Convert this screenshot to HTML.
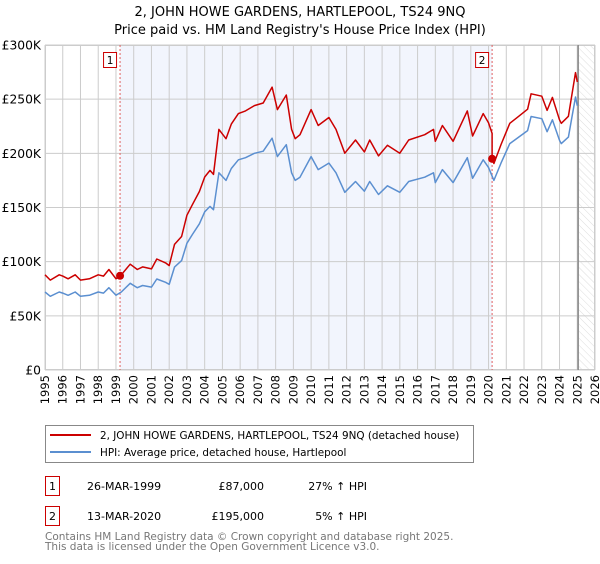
<!DOCTYPE html>
<html><head><meta charset="utf-8">
<style>
body{margin:0;background:#fff;font-family:"DejaVu Sans","Liberation Sans",sans-serif;}
svg text{font-family:"DejaVu Sans","Liberation Sans",sans-serif;}
</style></head>
<body>
<svg id="c" width="600" height="560" viewBox="0 0 600 560">
<defs>
<pattern id="hatch" width="5" height="5" patternUnits="userSpaceOnUse" patternTransform="rotate(-45)">
<line x1="0" y1="0" x2="0" y2="5" stroke="#d4d4d4" stroke-width="0.8"/>
</pattern>
</defs>
<text x="300" y="16" text-anchor="middle" font-size="13" fill="#000">2, JOHN HOWE GARDENS, HARTLEPOOL, TS24 9NQ</text>
<text x="300" y="34" text-anchor="middle" font-size="13" fill="#000">Price paid vs. HM Land Registry's House Price Index (HPI)</text>
<g id="plot"></g>
<g>
<rect x="45.5" y="425.5" width="428" height="37" fill="#fff" stroke="#888"/>
<line x1="50" y1="435" x2="91" y2="435" stroke="#cc0000" stroke-width="2"/>
<text x="100" y="439" font-size="10.4">2, JOHN HOWE GARDENS, HARTLEPOOL, TS24 9NQ (detached house)</text>
<line x1="50" y1="452" x2="91" y2="452" stroke="#5b8fd0" stroke-width="2"/>
<text x="100" y="456" font-size="10.4">HPI: Average price, detached house, Hartlepool</text>
</g>
<g font-size="11">
<rect x="45.5" y="476.5" width="14" height="19" fill="#fff" stroke="#cc0000"/>
<text x="52.5" y="490" text-anchor="middle">1</text>
<text x="87" y="490">26-MAR-1999</text>
<text x="264" y="490" text-anchor="end">£87,000</text>
<text x="367" y="490" text-anchor="end">27% ↑ HPI</text>
<rect x="45.5" y="506.5" width="14" height="19" fill="#fff" stroke="#cc0000"/>
<text x="52.5" y="520" text-anchor="middle">2</text>
<text x="87" y="520">13-MAR-2020</text>
<text x="264" y="520" text-anchor="end">£195,000</text>
<text x="367" y="520" text-anchor="end">5% ↑ HPI</text>
</g>
<text x="45" y="540" font-size="10.5" fill="#777">Contains HM Land Registry data © Crown copyright and database right 2025.</text>
<text x="45" y="550" font-size="10.5" fill="#777">This data is licensed under the Open Government Licence v3.0.</text>
</svg>
<script>
const hpiYears=[1995.0,1995.3,1995.8,1996.0,1996.3,1996.7,1997.0,1997.5,1998.0,1998.3,1998.6,1999.0,1999.3,1999.8,2000.2,2000.5,2001.0,2001.3,2001.8,2002.0,2002.3,2002.7,2003.0,2003.3,2003.7,2004.0,2004.3,2004.5,2004.8,2005.2,2005.5,2005.9,2006.3,2006.8,2007.3,2007.8,2008.1,2008.6,2008.9,2009.1,2009.37,2010.0,2010.4,2011.0,2011.4,2011.9,2012.5,2013.0,2013.3,2013.8,2014.3,2015.0,2015.5,2016.4,2016.9,2017.0,2017.4,2018.0,2018.8,2019.1,2019.7,2020.0,2020.3,2020.7,2021.2,2021.7,2022.2,2022.4,2023.0,2023.3,2023.6,2024.0,2024.1,2024.5,2024.9,2025.0];
const hpiValues=[72,68,72,71,69,72,68,69,72,71,76,69,72,80,76,78,76.5,84,81,79,95,101,117,125,135,146,151,148,182,175,186,194,196,200,202,214,197,208,182,175,178,197,185,191,182,164,174,165,174,162,170,164,174,178,182,173,185,173,196,177,194,187,175,191,209,215,221,234,232,220,231,212,209,215,252,244];
const saleYears=[1999.23,2020.2];
const salePrices=[87,195];
const saleLabels=["1","2"];
const yTicks=[0,50,100,150,200,250,300];
const yTickLabels=["£0","£50K","£100K","£150K","£200K","£250K","£300K"];
const xTicks=[1995,1996,1997,1998,1999,2000,2001,2002,2003,2004,2005,2006,2007,2008,2009,2010,2011,2012,2013,2014,2015,2016,2017,2018,2019,2020,2021,2022,2023,2024,2025,2026];
const dataEnd=2025.05;

const L=45,R=595,T=45,B=370;
const x=v=>L+(v-1995)/31*(R-L);
const y=v=>B-v/300*(B-T);
const NS="http://www.w3.org/2000/svg";
const g=document.getElementById('plot');
function mk(tag,attrs,parent){const e=document.createElementNS(NS,tag);for(const k in attrs)e.setAttribute(k,attrs[k]);(parent||g).appendChild(e);return e;}
function hpiAt(t){for(let i=0;i<hpiYears.length-1;i++){if(t>=hpiYears[i]&&t<=hpiYears[i+1]){const f=(t-hpiYears[i])/(hpiYears[i+1]-hpiYears[i]);return hpiValues[i]+f*(hpiValues[i+1]-hpiValues[i]);}}return hpiValues[hpiValues.length-1];}

let e=mk('rect',{x:x(saleYears[0]),y:T,width:x(saleYears[1])-x(saleYears[0]),height:B-T,fill:'#f2f5fd'});


e=mk('rect',{x:x(dataEnd),y:T,width:R-x(dataEnd),height:B-T,fill:'url(#hatch)'});



yTicks.forEach((v,i)=>{
 let l=mk('line',{x1:L,x2:R,y1:y(v),y2:y(v),stroke:'#cccccc','stroke-width':1});
 
 
 let t=mk('text',{x:L-4,y:y(v)+4.5,'text-anchor':'end','font-size':'12.3',fill:'#000'});
 t.textContent=yTickLabels[i];
 
 
});
xTicks.forEach(v=>{
 let l=mk('line',{x1:x(v),x2:x(v),y1:T,y2:B,stroke:'#cccccc','stroke-width':1});
 
 
 let t=mk('text',{x:0,y:0,'text-anchor':'end','font-size':'11.5',fill:'#000',transform:`translate(${x(v)+4},${375}) rotate(-90)`});
 t.textContent=String(v);
 
 
});
e=mk('rect',{x:L+0.5,y:T+0.5,width:R-L-1,height:B-T-1,fill:'none',stroke:'#cccccc'});


e=mk('line',{x1:x(dataEnd),x2:x(dataEnd),y1:T,y2:B,stroke:'#888','stroke-width':1.5});



saleYears.forEach((s,i)=>{
 let l=mk('line',{x1:x(s),x2:x(s),y1:T,y2:B,stroke:'#e06060','stroke-width':1,'stroke-dasharray':'2,2'});
 
 
 let r=mk('rect',{x:x(s)-16.5,y:52.5,width:13,height:15,fill:'#fff',stroke:'#cc0000'});
 
 
 let t=mk('text',{x:x(s)-10,y:64,'text-anchor':'middle','font-size':'10.5'});
 t.textContent=saleLabels[i];
 
 
});

let hp=hpiYears.map((t,i)=>`${i?'L':'M'}${x(t).toFixed(1)},${y(hpiValues[i]).toFixed(1)}`).join(' ');
e=mk('path',{d:hp,fill:'none',stroke:'#5b8fd0','stroke-width':1.5,'stroke-linejoin':'round'});



const r1=salePrices[0]/hpiAt(saleYears[0]), r2=salePrices[1]/hpiAt(saleYears[1]);
let pts=[];
hpiYears.forEach((t,i)=>{ if(t<saleYears[1]) pts.push([t,hpiValues[i]*r1]); });
pts.push([saleYears[1],hpiAt(saleYears[1])*r1]);
pts.push([saleYears[1],salePrices[1]]);
hpiYears.forEach((t,i)=>{ if(t>saleYears[1]) pts.push([t,hpiValues[i]*r2]); });
let rp=pts.map((p,i)=>`${i?'L':'M'}${x(p[0]).toFixed(1)},${y(p[1]).toFixed(1)}`).join(' ');
e=mk('path',{d:rp,fill:'none',stroke:'#cc0000','stroke-width':1.5,'stroke-linejoin':'round'});



saleYears.forEach((s,i)=>{
 let c=mk('circle',{cx:x(s),cy:y(salePrices[i]),r:4,fill:'#cc0000'});
 
 
});
</script>
</body></html>
